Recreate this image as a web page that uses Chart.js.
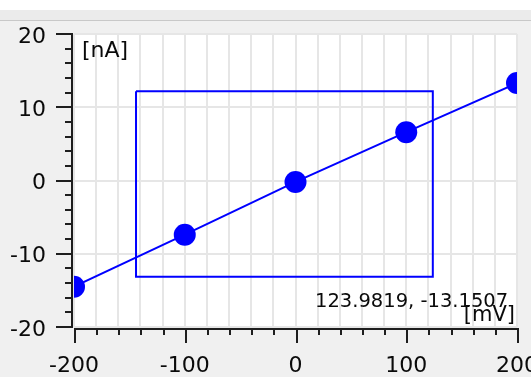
<!DOCTYPE html>
<html>
<head>
<meta charset="utf-8">
<script src="https://cdn.jsdelivr.net/npm/chart.js@4/dist/chart.umd.min.js"></script>
<style>
  html, body { margin: 0; padding: 0; }
  body {
    width: 531px; height: 377px; overflow: hidden;
    background: linear-gradient(to bottom, #ffffff 0px, #ffffff 10px, #ebebeb 10px, #ebebeb 20px, #c8c8c8 20px, #c8c8c8 21px, #f0f0f0 21px, #f0f0f0 100%);
  }
  canvas { display: block; }
</style>
</head>
<body>
<canvas id="c" width="531" height="377"></canvas>
<script>
// ---- data ----
const xValues = [-200, -100, 0, 100, 200];          // [mV]
const yValues = [-14.5, -7.4, -0.2, 6.6, 13.3];     // [nA]
const rectX = [-144, 123.9819, 123.9819, -144, -144];
const rectY = [12.2, 12.2, -13.1507, -13.1507, 12.2];
const xRange = [-200, 200];
const yRange = [-20, 20];
const xMinorStep = 20, xMajorStep = 100;
const yMinorStep = 2, yMajorStep = 10;
const cursorLabel = '123.9819, -13.1507';
const xUnit = '[mV]';
const yUnit = '[nA]';

const BLUE = '#0000ff';
const TEXT = '#0a0a0a';
const FONT = '"DejaVu Sans", Verdana, sans-serif';

const pointsData = xValues.map((x, i) => ({ x: x, y: yValues[i] }));
const rectData = rectX.map((x, i) => ({ x: x, y: rectY[i] }));

const isMajor = (v, step) => Math.abs(Math.round(v / step) * step - v) < 1e-6;

const framePlugin = {
  id: 'frame',
  beforeDraw(chart) {
    const { ctx, chartArea: a } = chart;
    ctx.save();
    ctx.fillStyle = '#ffffff';
    ctx.fillRect(a.left, a.top, a.right - a.left, a.bottom - a.top);
    ctx.restore();
  },
  afterDraw(chart) {
    const { ctx, chartArea: a } = chart;
    const xs = chart.scales.x, ys = chart.scales.y;
    ctx.save();
    ctx.strokeStyle = '#1e1e1e';
    ctx.lineWidth = 2;
    ctx.lineCap = 'butt';
    // y axis
    const ax = a.left - 2;
    ctx.beginPath();
    ctx.moveTo(ax, ys.getPixelForValue(yRange[1]) - 1);
    ctx.lineTo(ax, ys.getPixelForValue(yRange[0]) + 1);
    ctx.stroke();
    for (let v = yRange[0]; v <= yRange[1] + 1e-9; v += yMinorStep) {
      const py = Math.round(ys.getPixelForValue(v));
      const len = isMajor(v, yMajorStep) ? 16 : 7;
      ctx.beginPath();
      ctx.moveTo(ax + 1, py);
      ctx.lineTo(ax - len, py);
      ctx.stroke();
    }
    // x axis
    const ay = a.bottom + 2;
    ctx.beginPath();
    ctx.moveTo(xs.getPixelForValue(xRange[0]) + 1, ay);
    ctx.lineTo(xs.getPixelForValue(xRange[1]) + 1, ay);
    ctx.stroke();
    for (let v = xRange[0]; v <= xRange[1] + 1e-9; v += xMinorStep) {
      const px = Math.round(xs.getPixelForValue(v)) + 1;
      const len = isMajor(v, xMajorStep) ? 14 : 6;
      ctx.beginPath();
      ctx.moveTo(px, ay - 1);
      ctx.lineTo(px, ay + len);
      ctx.stroke();
    }
    // texts
    ctx.fillStyle = TEXT;
    ctx.font = '22px ' + FONT;
    ctx.textAlign = 'left';
    ctx.textBaseline = 'top';
    ctx.fillText(yUnit, a.left + 8, a.top + 6);
    ctx.font = '19.5px ' + FONT;
    ctx.textBaseline = 'alphabetic';
    ctx.fillText(cursorLabel, 315, 307);
    ctx.font = '21px ' + FONT;
    ctx.textAlign = 'right';
    ctx.fillText(xUnit, a.right - 2, a.bottom - 6);
    ctx.restore();
  }
};

new Chart(document.getElementById('c'), {
  type: 'scatter',
  data: {
    datasets: [
      {
        data: rectData,
        showLine: true,
        borderColor: BLUE,
        borderWidth: 2,
        pointRadius: 0,
        fill: false,
        tension: 0,
        clip: 0
      },
      {
        data: pointsData,
        showLine: true,
        borderColor: BLUE,
        borderWidth: 2,
        backgroundColor: BLUE,
        pointBackgroundColor: BLUE,
        pointBorderWidth: 0,
        pointRadius: 11,
        fill: false,
        tension: 0,
        clip: 0
      }
    ]
  },
  options: {
    responsive: false,
    animation: false,
    events: [],
    layout: { padding: { top: 34, right: 14, left: 0, bottom: 0 } },
    plugins: { legend: { display: false }, tooltip: { enabled: false } },
    scales: {
      x: {
        type: 'linear',
        min: xRange[0], max: xRange[1],
        border: { display: false },
        grid: { color: '#e6e6e6', lineWidth: 2, drawTicks: false },
        ticks: {
          stepSize: xMinorStep,
          autoSkip: false,
          maxRotation: 0,
          padding: 26,
          color: TEXT,
          font: { family: FONT, size: 22 },
          callback: (v) => isMajor(v, xMajorStep) ? String(v) : ''
        },
        afterFit(scale) { scale.height = 50; scale.paddingLeft = 0; scale.paddingRight = 0; }
      },
      y: {
        type: 'linear',
        min: yRange[0], max: yRange[1],
        border: { display: false },
        grid: {
          lineWidth: 2,
          drawTicks: false,
          color: (c) => (c.tick && isMajor(c.tick.value, yMajorStep)) ? '#e6e6e6' : 'rgba(0,0,0,0)'
        },
        ticks: {
          stepSize: yMinorStep,
          autoSkip: false,
          padding: 28,
          labelOffset: 3,
          color: TEXT,
          font: { family: FONT, size: 22 },
          callback: (v) => isMajor(v, yMajorStep) ? String(v) : ''
        },
        afterFit(scale) { scale.width = 74; scale.paddingTop = 0; scale.paddingBottom = 0; }
      }
    }
  },
  plugins: [framePlugin]
});
</script>
</body>
</html>
